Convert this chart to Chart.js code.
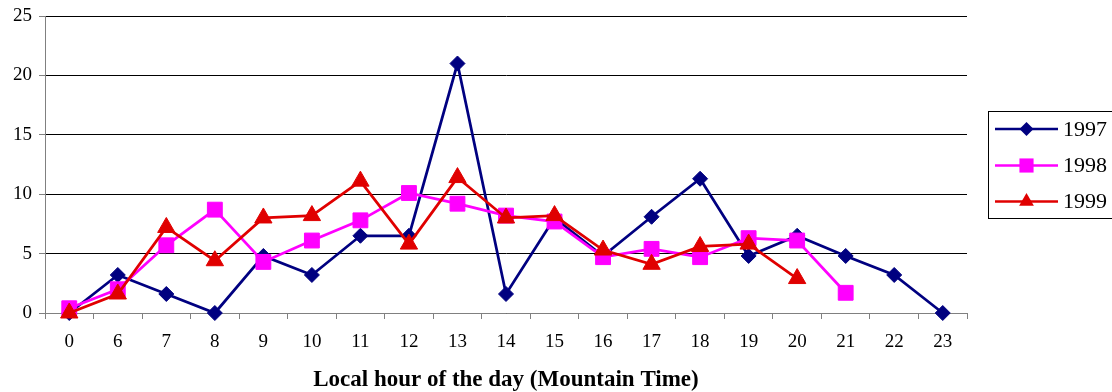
<!DOCTYPE html>
<html>
<head>
<meta charset="utf-8">
<script src="https://cdn.jsdelivr.net/npm/chart.js@4/dist/chart.umd.min.js"></script>
<style>
  html, body { margin: 0; padding: 0; background: #fff; }
  #wrap { width: 1112px; height: 392px; position: relative; }
</style>
</head>
<body>
<div id="wrap"><canvas id="c" width="1112" height="392"></canvas></div>
<script>
// Hour categories (local Mountain Time)
const hours = ['0', '6', '7', '8', '9', '10', '11', '12', '13', '14', '15', '16', '17', '18', '19', '20', '21', '22', '23'];

// Percentage of events per hour, one list per year
const values1997 = [0, 3.2, 1.6, 0, 4.8, 3.2, 6.5, 6.5, 21.0, 1.6, 8.0, 4.8, 8.1, 11.3, 4.8, 6.5, 4.8, 3.2, 0];
const values1998 = [0.4, 2.0, 5.7, 8.7, 4.3, 6.1, 7.8, 10.1, 9.2, 8.2, 7.7, 4.7, 5.4, 4.7, 6.3, 6.1, 1.7];
const values1999 = [0, 1.6, 7.2, 4.4, 8.0, 8.2, 11.1, 5.8, 11.4, 8.0, 8.2, 5.3, 4.1, 5.6, 5.8, 2.9];

const yearNames = ['1997', '1998', '1999'];
const yearColors = ['#000080', '#ff00ff', '#e00000'];
const yearMarkers = ['rectRot', 'rect', 'triangle'];
const yearRadius = [7.5, 10.5, 10];
const legendRadius = [7, 10, 8.5];

const yMin = 0, yMax = 25, yStep = 5;
const xTitle = 'Local hour of the day (Mountain Time)';

const serif = '"Liberation Serif", "Times New Roman", serif';

// Marker shapes used in the legend box
function drawMarker(ctx, style, x, y, r, color) {
  ctx.save();
  ctx.fillStyle = color;
  ctx.beginPath();
  if (style === 'rectRot') {
    ctx.moveTo(x, y - r); ctx.lineTo(x + r, y); ctx.lineTo(x, y + r); ctx.lineTo(x - r, y);
  } else if (style === 'rect') {
    const s = r * Math.SQRT1_2;
    ctx.rect(x - s, y - s, 2 * s, 2 * s);
  } else {
    const h = r * 0.866;
    ctx.moveTo(x, y - r); ctx.lineTo(x + h, y + r / 2); ctx.lineTo(x - h, y + r / 2);
  }
  ctx.closePath();
  ctx.fill();
  ctx.restore();
}

const legendBox = {
  id: 'legendBox',
  afterDraw(chart) {
    const ctx = chart.ctx;
    ctx.save();
    ctx.strokeStyle = '#000';
    ctx.lineWidth = 1;
    ctx.strokeRect(988.5, 111.5, 200, 107);
    const rows = [129, 165.5, 201.5];
    rows.forEach((y, i) => {
      ctx.strokeStyle = yearColors[i];
      ctx.lineWidth = 2.5;
      ctx.beginPath();
      ctx.moveTo(995, y);
      ctx.lineTo(1058, y);
      ctx.stroke();
      drawMarker(ctx, yearMarkers[i], 1026.5, y, legendRadius[i], yearColors[i]);
      ctx.fillStyle = '#000';
      ctx.font = '22px ' + serif;
      ctx.textBaseline = 'middle';
      ctx.textAlign = 'left';
      ctx.fillText(yearNames[i], 1063, y + 1);
    });
    ctx.restore();
  }
};

const seriesValues = [values1997, values1998, values1999];

const datasets = seriesValues.map((vals, i) => ({
  label: yearNames[i],
  data: vals,
  borderColor: yearColors[i],
  backgroundColor: yearColors[i],
  borderWidth: 2.75,
  pointStyle: yearMarkers[i],
  pointRadius: yearRadius[i],
  pointBackgroundColor: yearColors[i],
  pointBorderColor: yearColors[i],
  pointBorderWidth: 1,
  tension: 0,
  clip: false,
  order: 2 - i
}));

new Chart(document.getElementById('c'), {
  type: 'line',
  data: { labels: hours, datasets },
  options: {
    responsive: false,
    animation: false,
    devicePixelRatio: 1,
    layout: { padding: { left: 10, top: 16, right: 145, bottom: 0 } },
    plugins: {
      legend: { display: false },
      tooltip: { enabled: false }
    },
    scales: {
      x: {
        offset: true,
        grid: {
          offset: true,
          drawOnChartArea: false,
          drawTicks: true,
          tickLength: 6,
          color: '#808080',
          tickColor: '#808080'
        },
        border: { display: true, color: '#808080', width: 1 },
        ticks: {
          color: '#000',
          font: { family: serif, size: 19 },
          padding: 12,
          maxRotation: 0,
          autoSkip: false
        },
        title: {
          display: true,
          text: xTitle,
          color: '#000',
          font: { family: serif, size: 23, weight: 'bold', lineHeight: 1.0 },
          padding: { top: 0, bottom: 0 }
        },
        afterFit(scale) { scale.height = 79; }
      },
      y: {
        min: yMin,
        max: yMax,
        ticks: {
          stepSize: yStep,
          color: '#000',
          font: { family: serif, size: 19 },
          padding: 7
        },
        grid: {
          color: '#000',
          lineWidth: 1,
          drawTicks: true,
          tickLength: 6,
          tickColor: '#808080'
        },
        border: { display: true, color: '#808080', width: 1 },
        afterFit(scale) {
          scale.width = 35;
          scale.paddingTop = 0;
          scale.paddingBottom = 0;
        }
      }
    }
  },
  plugins: [legendBox]
});
</script>
</body>
</html>
